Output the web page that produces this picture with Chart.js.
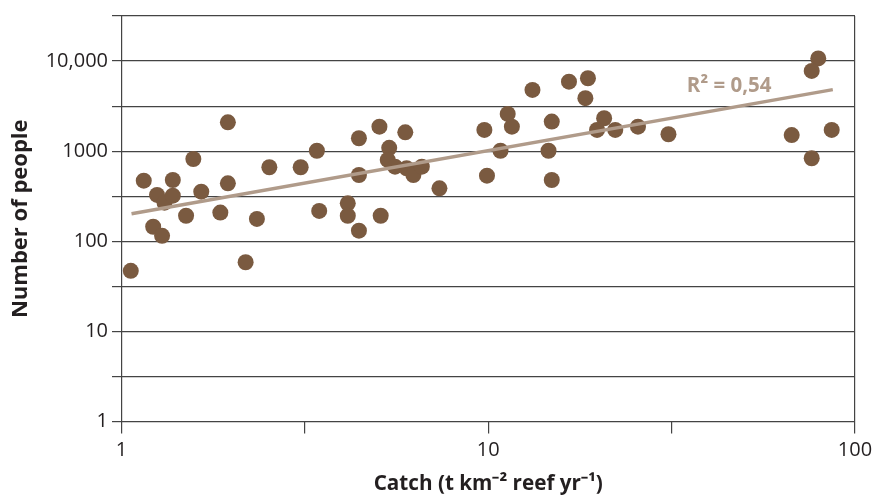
<!DOCTYPE html>
<html>
<head>
<title>Catch vs number of people</title>
<style>
  body { margin: 0; background: #fff; }
  .chart-container { position: relative; width: 874px; height: 495px; }
</style>
</head>
<body>
<div class="chart-container">
<canvas id="mycanvas"></canvas>
</div>

<script src="https://cdn.jsdelivr.net/npm/chart.js@4/dist/chart.umd.min.js"></script>
<script>
// catch (t km-2 reef yr-1) and number of people
var catchValues = [1.06, 1.15, 1.25, 1.31, 1.38, 1.38, 1.22, 1.29, 1.5, 1.57,
  1.65, 1.86, 1.95, 1.95, 2.18, 2.34, 2.53, 3.08, 3.41, 3.46,
  4.14, 4.14, 4.44, 5.09, 4.44, 4.44, 5.05, 5.94, 5.37, 5.32,
  5.57, 5.99, 6.25, 6.59, 7.36, 9.76, 9.92, 10.8, 11.3, 11.6,
  13.2, 14.9, 14.6, 14.9, 16.6, 18.7, 18.4, 20.7, 19.8, 22.2,
  25.6, 31, 79.4, 76.2, 67.2, 86.4, 76.2];
var peopleValues = [47, 471, 327, 268, 479, 321, 145, 115, 192, 819,
  355, 208, 440, 2090, 58.5, 177, 663, 663, 1010, 217,
  264, 192, 131, 192, 1390, 544, 1870, 1620, 1090, 799,
  673, 646, 544, 673, 387, 1720, 535, 1010, 2590, 1870,
  4780, 2130, 1010, 479, 5910, 6440, 3870, 2320, 1720, 1720,
  1870, 1540, 10700, 7770, 1510, 1720, 834];

// fitted power trend (end points)
var trendX = [1.065, 87];
var trendY = [202, 4820];
var trendLabel = "R\u00b2 = 0,54";
var trendLabelAt = [34.8, 5300];

// axis ticks: every half decade, labels only on decades
var xTicks = [1, 3.1623, 10, 31.623, 100];
var yTicks = [1, 3.1623, 10, 31.623, 100, 316.23, 1000, 3162.3, 10000, 31623];

var pointColor = "#7a5a40";
var trendColor = "#b09b8a";
var inkColor = "#231f20";
var gridColor = "#444";

function isDecade(v) {
  var l = Math.log10(v);
  return Math.abs(l - Math.round(l)) < 1e-6;
}

var points = [];
for (var i in catchValues) {
  points.push({x: catchValues[i], y: peopleValues[i]});
}
var trend = [];
for (var j in trendX) {
  trend.push({x: trendX[j], y: trendY[j]});
}

var labelPlugin = {
  id: "trendLabel",
  afterDatasetsDraw: function(chart) {
    var c = chart.ctx;
    var px = chart.scales.x.getPixelForValue(trendLabelAt[0]);
    var py = chart.scales.y.getPixelForValue(trendLabelAt[1]);
    c.save();
    c.font = "bold 20.5px 'Open Sans'";
    c.fillStyle = trendColor;
    c.textAlign = "left";
    c.textBaseline = "middle";
    c.fillText(trendLabel, px, py);
    c.restore();
  }
};

var ctx = document.getElementById("mycanvas");
new Chart(ctx, {
  type: "scatter",
  data: {
    datasets: [
      {
        type: "line",
        data: trend,
        borderColor: trendColor,
        borderWidth: 3.5,
        pointRadius: 0,
        fill: false
      },
      {
        data: points,
        backgroundColor: pointColor,
        borderWidth: 0,
        pointRadius: 8
      }
    ]
  },
  options: {
    responsive: true,
    maintainAspectRatio: false,
    animation: false,
    events: [],
    layout: { padding: { top: 16, right: 19, left: 0, bottom: 0 } },
    plugins: { legend: { display: false }, tooltip: { enabled: false } },
    scales: {
      x: {
        type: "logarithmic",
        min: 1,
        max: 100,
        afterBuildTicks: function(scale) {
          scale.ticks = xTicks.map(function(v) { return {value: v}; });
        },
        afterFit: function(scale) {
          scale.height = 73.5;
          scale.paddingLeft = 0;
          scale.paddingRight = 0;
        },
        border: { display: false },
        grid: {
          color: function(c) {
            var v = c.tick ? c.tick.value : 0;
            return (v === 1 || v === 100) ? gridColor : "rgba(0,0,0,0)";
          },
          tickColor: gridColor,
          tickLength: 12,
          lineWidth: 1.2
        },
        ticks: {
          autoSkip: false,
          maxRotation: 0,
          padding: 5,
          color: inkColor,
          font: { family: "'Open Sans'", size: 20 },
          callback: function(v) { return isDecade(v) ? String(Math.round(v)) : ""; }
        },
        title: {
          display: true,
          text: "Catch (t km\u207b\u00b2 reef yr\u207b\u00b9)",
          color: inkColor,
          font: { family: "'Open Sans'", size: 20.7, weight: "bold" },
          padding: { top: 0, bottom: -1.5 }
        }
      },
      y: {
        type: "logarithmic",
        min: 1,
        max: 31623,
        afterBuildTicks: function(scale) {
          scale.ticks = yTicks.map(function(v) { return {value: v}; });
        },
        afterFit: function(scale) { scale.width = 121.5; },
        border: { display: false },
        grid: {
          color: gridColor,
          tickColor: gridColor,
          tickLength: 9.5,
          lineWidth: 1.2
        },
        ticks: {
          autoSkip: false,
          padding: 4,
          color: inkColor,
          font: { family: "'Open Sans'", size: 20 },
          callback: function(v) {
            if (!isDecade(v)) return "";
            var n = Math.round(v);
            return n >= 10000 ? n.toLocaleString("en-US") : String(n);
          }
        },
        title: {
          display: true,
          text: "Number of people",
          color: inkColor,
          font: { family: "'Open Sans'", size: 22, weight: "bold" },
          padding: { top: 8, bottom: 0 }
        }
      }
    }
  },
  plugins: [labelPlugin]
});
</script>
</body>
</html>
